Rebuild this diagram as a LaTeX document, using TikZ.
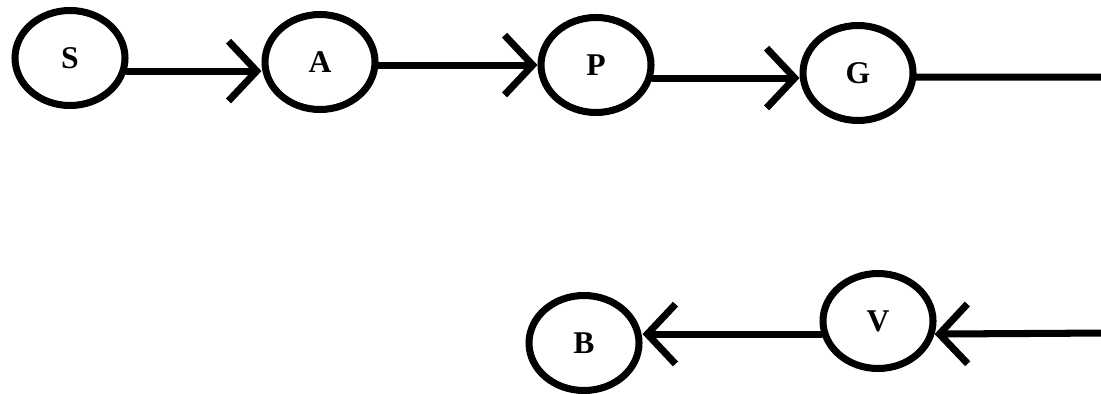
\documentclass[tikz,border=0pt]{standalone}
\usepackage{fontspec}
\setmainfont{Liberation Serif}
\usetikzlibrary{shapes.geometric}
\usetikzlibrary{arrows.meta, positioning}

\begin{document}
\begin{tikzpicture}[
    state/.style={ellipse, draw, line width=2pt, minimum width=1.1cm,
        minimum height=0.95cm, inner sep=0pt,
        font=\bfseries\fontsize{9}{10}\selectfont},
    link/.style={line width=2pt, line cap=round},
    arr/.style={link, -{Straight Barb[length=8pt,width=17pt]}}]
    \useasboundingbox (0,0) rectangle (11.01,-3.93);

    \node[state] (S) at (0.70,-0.58) {S};
    \node[state] (A) at (3.20,-0.62) {A};
    \node[state] (P) at (5.96,-0.65) {P};
    \node[state] (G) at (8.58,-0.73) {G};
    \node[state] (V) at (8.78,-3.21) {V};
    \node[state] (B) at (5.84,-3.43) {B};
    \coordinate (turn) at (11.08,-3.33);

    \draw[arr] (S.-13) -- (S.-13 -| A.west);
    \draw[arr] (A.-3) -- (A.-3 -| P.west);
    \draw[arr] (P.-13) -- (P.-13 -| G.west);
    \draw[arr] (G.-4) -| (turn) -- (V.-13);
    \draw[arr] (V.193) -- (V.193 -| B.east);

\end{tikzpicture}
\end{document}
